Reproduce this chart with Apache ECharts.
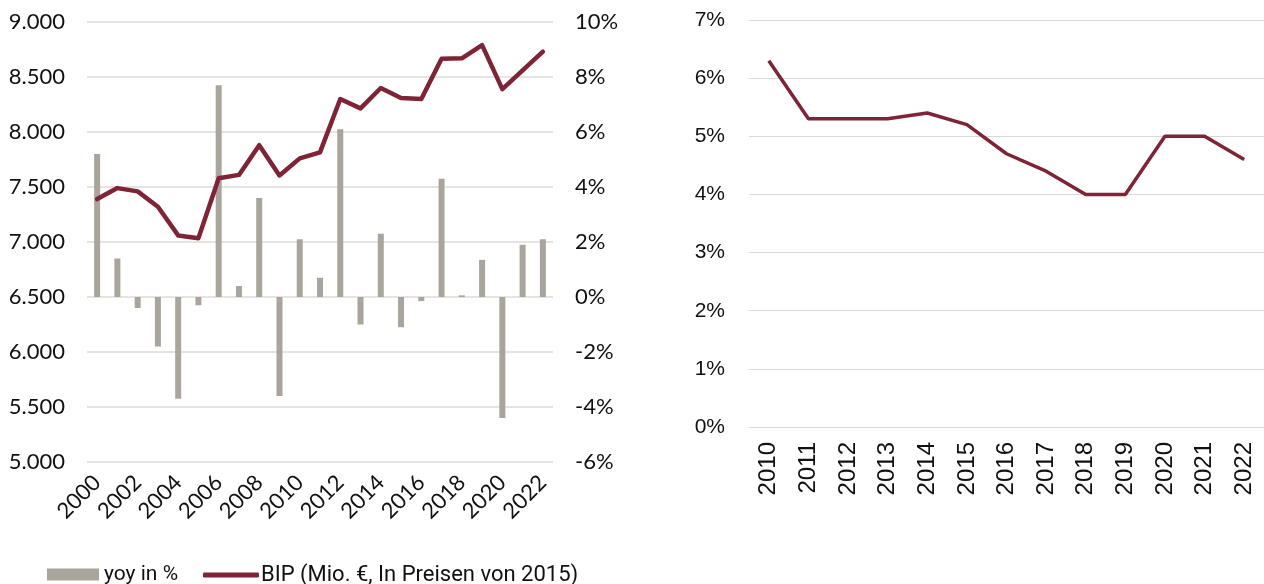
<!DOCTYPE html>
<html lang="de">
<head>
    <meta charset="UTF-8">
    <title>BIP</title>
    <style>
        html, body { margin: 0; padding: 0; background: #fff; }
        #chart { width: 1264px; height: 584px; }
    </style>
</head>
<body>
<div id="chart"></div>
<script src="https://cdn.jsdelivr.net/npm/echarts@6/dist/echarts.min.js"></script>
<script>
    // Daten
    var years = ['2000','2001','2002','2003','2004','2005','2006','2007','2008','2009','2010','2011',
                 '2012','2013','2014','2015','2016','2017','2018','2019','2020','2021','2022'];
    var bip = [7390, 7490, 7460, 7320, 7060, 7035, 7580, 7610, 7880, 7605, 7760, 7815,
               8300, 8215, 8400, 8310, 8300, 8665, 8670, 8790, 8390, 8560, 8730];
    var yoy = [5.2, 1.4, -0.4, -1.8, -3.7, -0.3, 7.7, 0.4, 3.6, -3.6, 2.1, 0.7,
               6.1, -1.0, 2.3, -1.1, -0.15, 4.3, 0.06, 1.35, -4.4, 1.9, 2.1];

    var years2 = ['2010','2011','2012','2013','2014','2015','2016','2017','2018','2019','2020','2021','2022'];
    var rate = [6.3, 5.3, 5.3, 5.3, 5.4, 5.2, 4.7, 4.4, 4.0, 4.0, 5.0, 5.0, 4.6];

    var maroon = '#7f2336';
    var grey = '#aaa59c';
    var leftFont = 'Lato';
    var rightFont = 'Liberation Sans';

    var myChart = echarts.init(document.getElementById('chart'));

    var option = {
        animation: false,
        legend: [{
            left: 42, top: 559,
            itemWidth: 52, itemHeight: 12, itemGap: 0,
            icon: 'rect',
            textStyle: { fontFamily: 'Roboto', fontSize: 21, color: '#111' },
            data: ['yoy in %']
        }, {
            left: 198, top: 559,
            itemWidth: 56, itemHeight: 5,
            icon: 'roundRect',
            textStyle: { fontFamily: 'Roboto', fontSize: 22, color: '#111', padding: [0, 0, 0, -3] },
            data: ['BIP (Mio. €, In Preisen von 2015)']
        }],
        grid: [
            { left: 87, right: 711, top: 22, bottom: 122 },
            { left: 749, right: -1, top: 20, bottom: 157 }
        ],
        xAxis: [{
            type: 'category', gridIndex: 0, data: years,
            axisLine: { show: false }, axisTick: { show: false },
            axisLabel: { interval: 1, rotate: 45, margin: 17, fontFamily: leftFont, fontSize: 22, color: '#111' }
        }, {
            type: 'category', gridIndex: 1, data: years2,
            axisLine: { show: false }, axisTick: { show: false },
            axisLabel: { interval: 0, rotate: 90, margin: 15, fontFamily: rightFont, fontSize: 24, color: '#111' }
        }],
        yAxis: [{
            type: 'value', gridIndex: 0, min: 5000, max: 9000, interval: 500,
            axisLabel: {
                margin: 22, fontFamily: leftFont, fontSize: 22, color: '#111',
                formatter: function (v) { return (v / 1000).toFixed(3); }
            },
            splitLine: { lineStyle: { color: '#dedbd6', width: 1.5 } }
        }, {
            type: 'value', gridIndex: 0, position: 'right', min: -6, max: 10, interval: 2,
            axisLabel: { margin: 22, fontFamily: leftFont, fontSize: 22, color: '#111', formatter: '{value}%' },
            splitLine: { show: false }
        }, {
            type: 'value', gridIndex: 1, min: 0, max: 7, interval: 1,
            axisLabel: { margin: 24, fontFamily: rightFont, fontSize: 21, color: '#111', formatter: '{value}%' },
            splitLine: { lineStyle: { color: '#d9d9d9', width: 1.2 } }
        }],
        series: [{
            name: 'yoy in %', type: 'bar', xAxisIndex: 0, yAxisIndex: 1,
            barWidth: 6, itemStyle: { color: grey }, data: yoy
        }, {
            name: 'BIP (Mio. €, In Preisen von 2015)', type: 'line', xAxisIndex: 0, yAxisIndex: 0,
            symbol: 'none', lineStyle: { color: maroon, width: 4.5, cap: 'round', join: 'round' },
            itemStyle: { color: maroon }, data: bip
        }, {
            name: 'rate', type: 'line', xAxisIndex: 1, yAxisIndex: 2,
            symbol: 'none', lineStyle: { color: maroon, width: 3.5 },
            itemStyle: { color: maroon }, data: rate
        }]
    };
    myChart.setOption(option);
</script>
</body>
</html>
